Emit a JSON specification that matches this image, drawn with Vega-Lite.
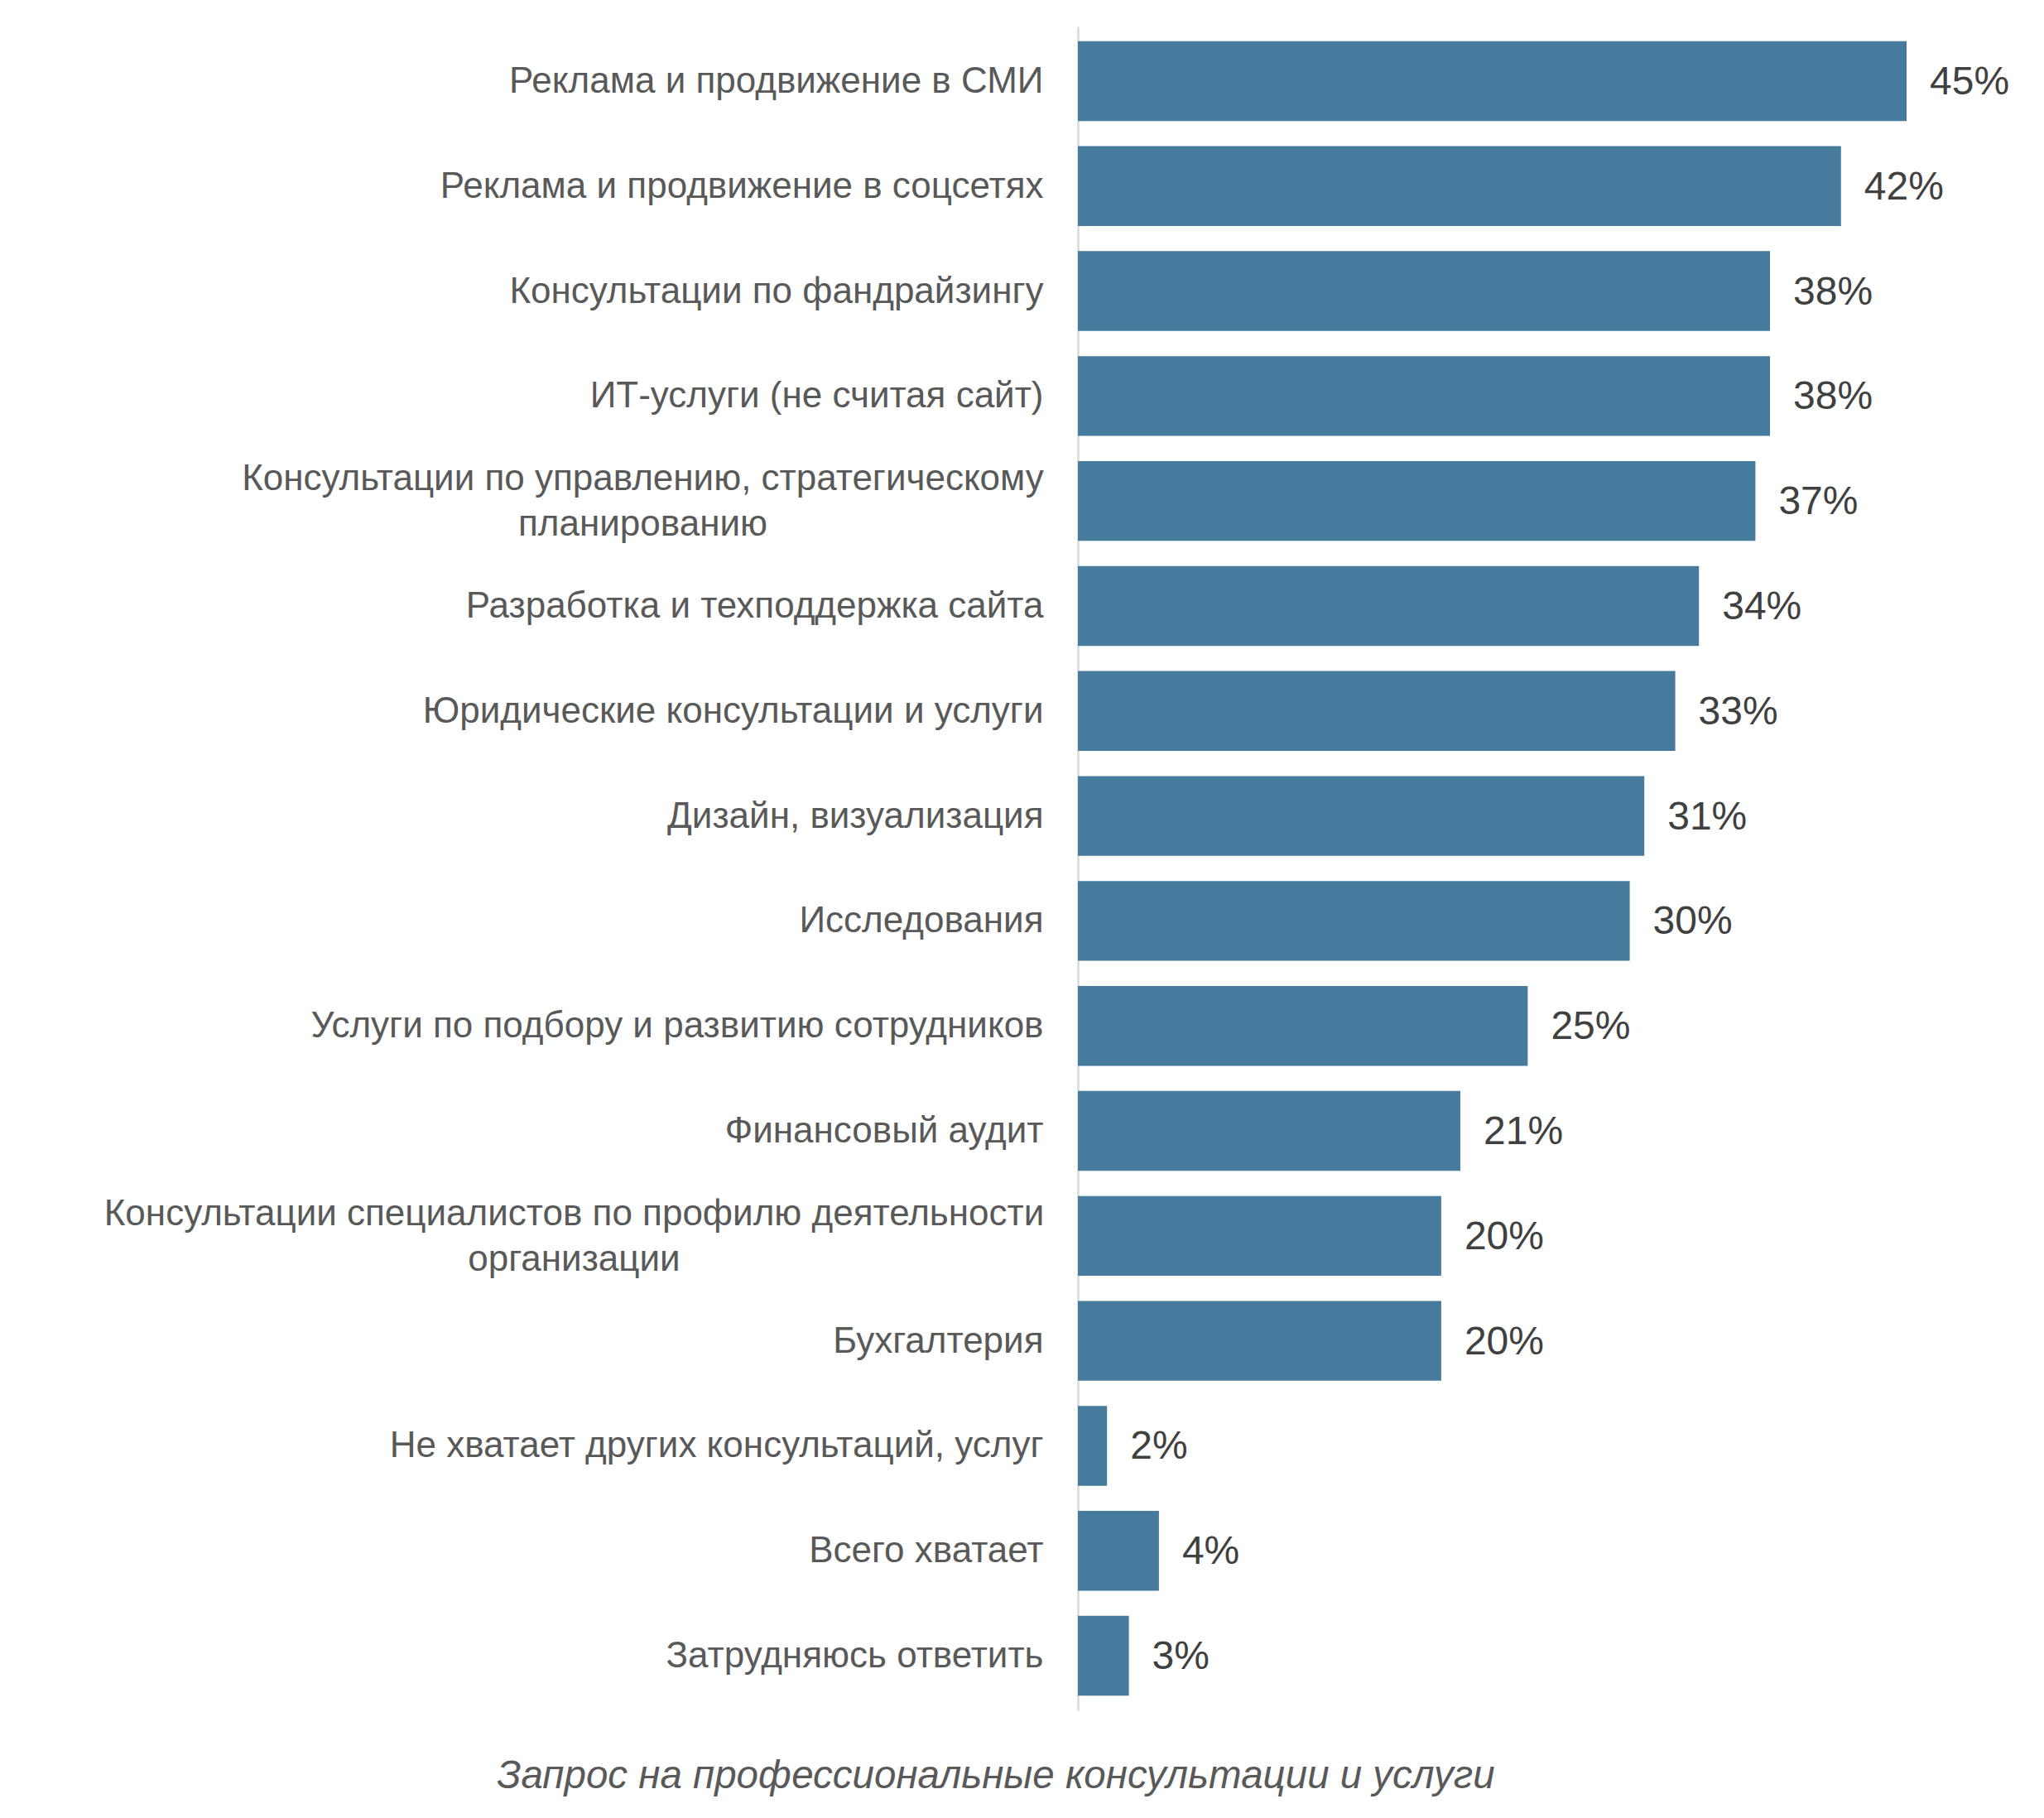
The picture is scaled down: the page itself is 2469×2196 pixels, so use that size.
{
  "$schema": "https://vega.github.io/schema/vega-lite/v6.json",
  "width": 1100,
  "height": 2034,
  "autosize": "none",
  "padding": {"left": 1302, "top": 32, "right": 67, "bottom": 130},
  "background": "white",
  "title": {
    "text": "Запрос на профессиональные консультации и услуги",
    "orient": "bottom",
    "anchor": "middle",
    "frame": "group",
    "dx": -649,
    "offset": 56,
    "baseline": "top",
    "font": "Liberation Sans",
    "fontSize": 47.5,
    "fontStyle": "italic",
    "fontWeight": "normal",
    "color": "#595959"
  },
  "data": {
    "values": [
      {"category": "Реклама и продвижение в СМИ", "value": 45.5, "label": "45%"},
      {"category": "Реклама и продвижение в соцсетях", "value": 41.9, "label": "42%"},
      {"category": "Консультации по фандрайзингу", "value": 38.0, "label": "38%"},
      {"category": "ИТ-услуги (не считая сайт)", "value": 38.0, "label": "38%"},
      {"category": "Консультации по управлению, стратегическому|планированию", "value": 37.2, "label": "37%"},
      {"category": "Разработка и техподдержка сайта", "value": 34.1, "label": "34%"},
      {"category": "Юридические консультации и услуги", "value": 32.8, "label": "33%"},
      {"category": "Дизайн, визуализация", "value": 31.1, "label": "31%"},
      {"category": "Исследования", "value": 30.3, "label": "30%"},
      {"category": "Услуги по подбору и развитию сотрудников", "value": 24.7, "label": "25%"},
      {"category": "Финансовый аудит", "value": 21.0, "label": "21%"},
      {"category": "Консультации специалистов по профилю деятельности|организации", "value": 19.95, "label": "20%"},
      {"category": "Бухгалтерия", "value": 19.95, "label": "20%"},
      {"category": "Не хватает других консультаций, услуг", "value": 1.6, "label": "2%"},
      {"category": "Всего хватает", "value": 4.45, "label": "4%"},
      {"category": "Затрудняюсь ответить", "value": 2.8, "label": "3%"}
    ]
  },
  "encoding": {
    "y": {
      "field": "category",
      "type": "nominal",
      "sort": null,
      "scale": {"paddingInner": 0.24, "paddingOuter": 0.14},
      "axis": {
        "title": null,
        "domainColor": "#d9d9d9",
        "domainWidth": 2.5,
        "ticks": false,
        "labelFont": "Liberation Sans",
        "labelFontSize": 44,
        "labelColor": "#595959",
        "labelLimit": 0,
        "labelExpr": "split(datum.label, '|')",
        "labelLineHeight": 55,
        "labelAlign": {"condition": {"test": "indexof(datum.value, '|') >= 0", "value": "center"}, "value": "right"},
        "labelOffset": {"condition": {"test": "indexof(datum.value, '|') >= 0", "value": -26}, "value": 1},
        "labelPadding": {"condition": {"test": "indexof(datum.value, '|') >= 0", "expr": "length(datum.value) > 58 ? 609 : 526"}, "value": 42}
      }
    },
    "x": {
      "field": "value",
      "type": "quantitative",
      "scale": {"domain": [0, 50]},
      "axis": null
    }
  },
  "layer": [
    {"mark": {"type": "bar", "color": "#467b9d"}},
    {
      "mark": {"type": "text", "align": "left", "baseline": "middle", "dx": 28, "dy": 2, "fontSize": 48, "font": "Liberation Sans", "color": "#404040"},
      "encoding": {"text": {"field": "label"}}
    }
  ],
  "config": {"view": {"stroke": null}}
}
